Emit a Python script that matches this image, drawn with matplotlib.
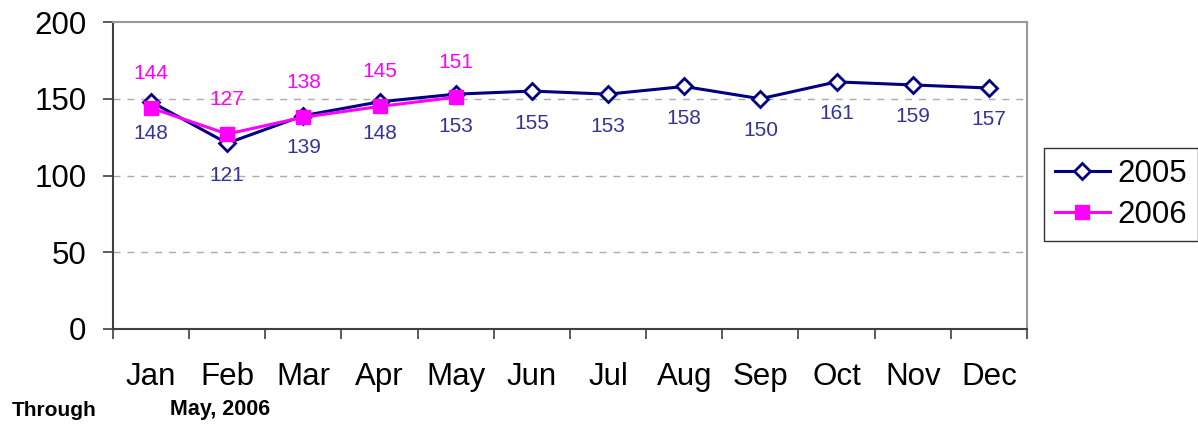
import matplotlib
matplotlib.use("Agg")
import matplotlib.pyplot as plt
import numpy as np

plt.rcParams['font.family'] = ['Liberation Sans', 'DejaVu Sans']

months = ["Jan", "Feb", "Mar", "Apr", "May", "Jun", "Jul", "Aug", "Sep", "Oct", "Nov", "Dec"]
v2005 = [148, 121, 139, 148, 153, 155, 153, 158, 150, 161, 159, 157]
v2006 = [144, 127, 138, 145, 151]
yticks = [0, 50, 100, 150, 200]

fig = plt.figure(figsize=(11.98, 4.25), dpi=100)
ax = fig.add_axes([113/1198, 1 - 329/425, (1027-113)/1198, (329-22)/425])

x05 = np.arange(len(v2005))
x06 = np.arange(len(v2006))
ax.plot(x05, v2005, color='#000080', lw=2.2, marker='D', ms=8, mfc='white', mec='#000080', mew=2, label='2005', zorder=3)
ax.plot(x06, v2006, color='#FF00FF', lw=2.2, marker='s', ms=10, mfc='#FF00FF', mec='#FF00FF', label='2006', zorder=4)

for xi, v in zip(x05, v2005):
    ax.annotate(str(v), (xi, v), xytext=(0, -23), textcoords='offset points', ha='center', va='center',
                fontsize=15, color='#333399')
for xi, v in zip(x06, v2006):
    ax.annotate(str(v), (xi, v), xytext=(0, 25), textcoords='offset points', ha='center', va='center',
                fontsize=15, color='#FF00FF')

ax.set_xlim(-0.5, 11.5)
ax.set_ylim(0, 200)
ax.set_yticks(yticks)
ax.set_yticklabels([str(t) for t in yticks], fontsize=22.5)
ax.set_xticks(np.arange(-0.5, 12, 1))
ax.set_xticklabels([])
ax.set_xticks(x05, minor=True)
ax.set_xticklabels(months, minor=True, fontsize=22.5)
ax.tick_params(axis='x', which='minor', length=0, pad=24)
ax.tick_params(axis='x', which='major', length=7, width=1.2, color='#404040', direction='out')
ax.tick_params(axis='y', length=7, width=1.2, color='#404040', direction='out', pad=12)

for yv in [50, 100, 150]:
    ax.axhline(yv, color='#AAAAAA', lw=1, ls=(0, (5, 5)), zorder=1)

for s in ['top', 'right']:
    ax.spines[s].set_color('#999999')
    ax.spines[s].set_linewidth(1.5)
for s in ['left', 'bottom']:
    ax.spines[s].set_color('#404040')
    ax.spines[s].set_linewidth(1.5)

leg = fig.legend(loc='upper left', bbox_to_anchor=(1044/1198, 1 - 148/425), fontsize=22.5,
                 frameon=True, fancybox=False, edgecolor='black', handlelength=1.75,
                 borderpad=0.35, labelspacing=0.35, handletextpad=0.25, borderaxespad=0)
leg.get_frame().set_linewidth(1)

fig.text(12/1198, 1 - 410/425, "Through", fontsize=15, fontweight='bold', va='center', ha='left')
fig.text(170/1198, 1 - 410/425, "May, 2006", fontsize=15.5, fontweight='bold', va='center', ha='left')

fig.savefig("out.png", dpi=100)
